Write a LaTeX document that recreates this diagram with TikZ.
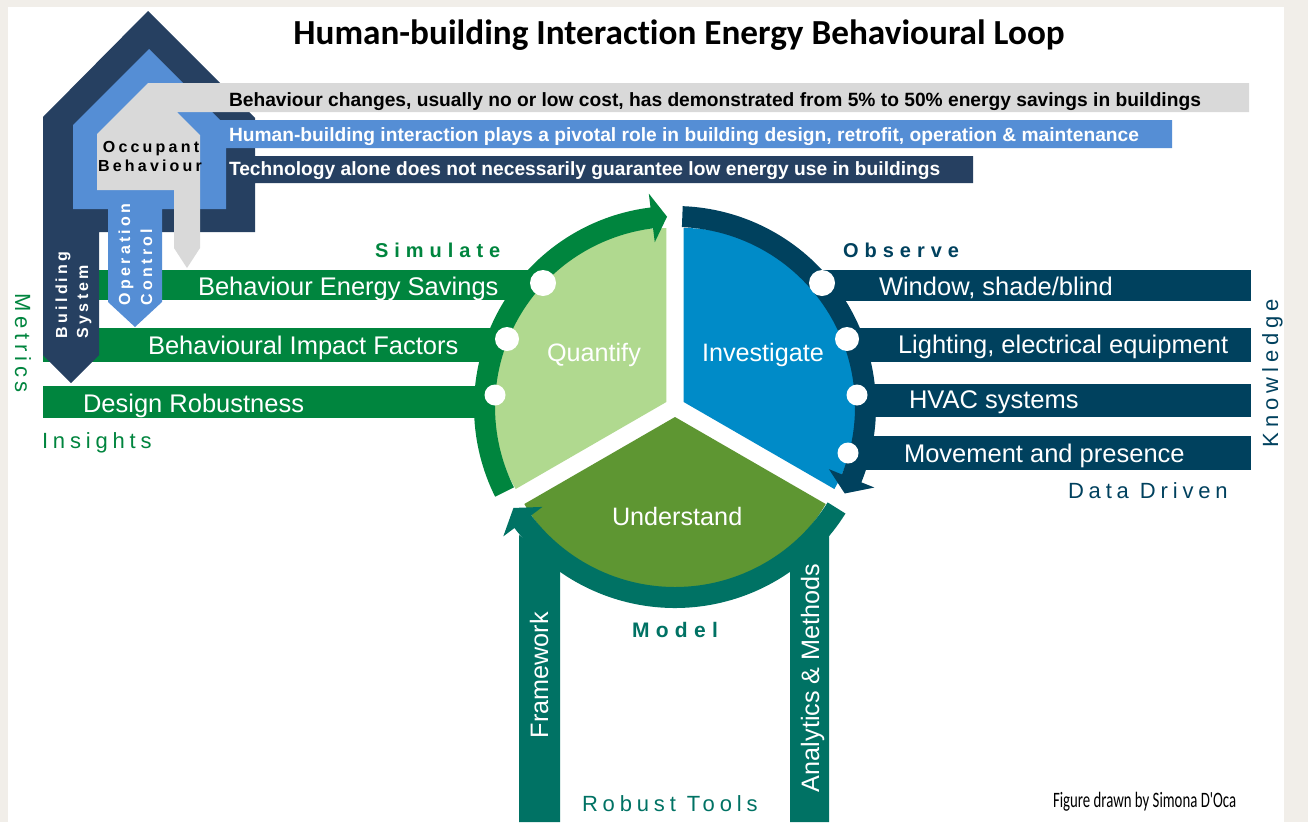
\documentclass[tikz,border=0pt]{standalone}
\usepackage{fontspec}
\setmainfont{Liberation Sans}
\newfontfamily\titlefont{Carlito}[Ligatures=NoCommon]
\newfontfamily\footfont{Carlito}
\newfontfamily\lsreg{Liberation Sans}[LetterSpace=22]
\newfontfamily\lsbold{Liberation Sans}[LetterSpace=30]
\newfontfamily\lssmall{Liberation Sans}[LetterSpace=20]
\newcommand\fsz[1]{\fontsize{#1}{#1}\selectfont}
\definecolor{bgc}{RGB}{241,238,233}
\definecolor{navyA}{RGB}{38,64,97}
\definecolor{lblue}{RGB}{85,142,213}
\definecolor{lgray}{RGB}{217,217,217}
\definecolor{grn}{RGB}{0,133,62}
\definecolor{lgrn}{RGB}{176,217,143}
\definecolor{invb}{RGB}{0,139,200}
\definecolor{dnavy}{RGB}{0,65,94}
\definecolor{olive}{RGB}{94,150,50}
\definecolor{teal}{RGB}{0,114,100}
\tikzset{
  barlbl/.style={anchor=base west, text=white, font=\fsz{25.5}},
  toplbl/.style={anchor=base west, font=\fsz{19.2}\bfseries},
  seclbl/.style={anchor=base west, text=white, font=\fsz{25.2}},
  spreg/.style={anchor=base west, font=\lsreg\fsz{22}},
  spbold/.style={anchor=base west, font=\lsbold\fsz{20}\bfseries},
  sphouse/.style={font=\lssmall\fsz{16}\bfseries},
  dot/.style={white}
}
\begin{document}
\begin{tikzpicture}[x=1pt,y=-1pt,every node/.style={inner sep=0pt,outer sep=0pt}]
\useasboundingbox (0,0) rectangle (1308,822);
\fill[bgc] (0,0) rectangle (1308,822);
\fill[white] (8,7) rectangle (1284,822);

\coordinate (O) at (675,407);
\coordinate (Q) at (666.34,402);
\coordinate (I) at (683.66,402);
\coordinate (U) at (675,417);

% left green bars
\fill[grn] (80,270) rectangle (565,300);
\fill[grn] (43,328) rectangle (565,362);
\fill[grn] (43,386) rectangle (565,418);
% right dark bars
\fill[dnavy] (770,270) rectangle (1251,301);
\fill[dnavy] (790,328) rectangle (1251,362);
\fill[dnavy] (800,384) rectangle (1251,417);
\fill[dnavy] (825,436) rectangle (1251,470);
% bottom teal bars
\fill[teal] (519,822) -- (519,535) -- (560,568) -- (560,822) -- cycle;
\fill[teal] (790,822) -- (790,568) -- (829,533) -- (829,822) -- cycle;

% sectors
\fill[lgrn] (Q) -- ([shift={(Q)}]-90:174) arc[start angle=-90,end angle=-210,radius=174] -- cycle;
\fill[invb] (I) -- ([shift={(I)}]-90:174) arc[start angle=-90,end angle=30,radius=174] -- cycle;
\fill[olive] (U) -- ([shift={(U)}]30:174) arc[start angle=30,end angle=150,radius=174] -- cycle;

% rings with arrowheads
\fill[grn] ([shift={(O)}]-206.5:180) arc[start angle=-206.5,end angle=-97,radius=180]
  -- ([shift={(O)}]-97:166) -- ([shift={(O)}]-92.4:190.5) -- ([shift={(O)}]-97:215)
  -- ([shift={(O)}]-97:201) arc[start angle=-97,end angle=-206.5,radius=201] -- cycle;
\fill[dnavy] ([shift={(O)}]-87.8:180) arc[start angle=-87.8,end angle=22,radius=180]
  -- ([shift={(O)}]22:166) -- ([shift={(O)}]27:190.5) -- ([shift={(O)}]22:215)
  -- ([shift={(O)}]22:201) arc[start angle=22,end angle=-87.8,radius=201] -- cycle;
\fill[teal] ([shift={(O)}]32:180) arc[start angle=32,end angle=143,radius=180]
  -- ([shift={(O)}]143:166) -- ([shift={(O)}]148:190.5) -- ([shift={(O)}]143:215)
  -- ([shift={(O)}]143:201) arc[start angle=143,end angle=32,radius=201] -- cycle;

% dots
\fill[dot] (543,283) circle[radius=13];
\fill[dot] (507,339) circle[radius=12];
\fill[dot] (495,395) circle[radius=10.5];
\fill[dot] (822,283) circle[radius=13];
\fill[dot] (847,339) circle[radius=12];
\fill[dot] (857,395) circle[radius=10.5];
\fill[dot] (848,453) circle[radius=10.5];

% house shapes
\fill[navyA] (43,355) -- (43,117) -- (148,11) -- (255,118) -- (255,156) -- (973,156)
  -- (973,183) -- (255,183) -- (255,232) -- (99,232) -- (99,355) -- (71,383) -- cycle;
\fill[lblue] (73,209) -- (73,125) -- (149,49) -- (220,120) -- (1172,120) -- (1172,148)
  -- (226,148) -- (226,209) -- (162,209) -- (162,302) -- (135,327) -- (108,302) -- (108,209) -- cycle;
\fill[lgray] (148,83) -- (1249,83) -- (1249,112) -- (177,112) -- (200,135) -- (200,248)
  -- (187,268) -- (174,248) -- (174,190) -- (97,190) -- (97,134) -- cycle;

% title
\node[anchor=base, font=\titlefont\fsz{35.2}\bfseries] (title) at (679,44) {Human-building Interaction Energy Behavioural Loop};

% top bar texts
\node[toplbl, text=black] (tb1) at (229,106) {Behaviour changes, usually no or low cost, has demonstrated from 5\% to 50\% energy savings in buildings};
\node[toplbl, text=white] (tb2) at (229,141) {Human-building interaction plays a pivotal role in building design, retrofit, operation \& maintenance};
\node[toplbl, text=white] (tb3) at (229,175) {Technology alone does not necessarily guarantee low energy use in buildings};

% house labels
\node[sphouse, anchor=base, text=black] (occ1) at (151,152) {Occupant};
\node[sphouse, anchor=base, text=black] (occ2) at (150,171) {Behaviour};
\node[sphouse, anchor=base west, rotate=90, text=white] (op1) at (130,305) {Operation};
\node[sphouse, anchor=base west, rotate=90, text=white] (op2) at (152,305) {Control};
\node[sphouse, anchor=base west, rotate=90, text=white] (bs1) at (67,338) {Building};
\node[sphouse, anchor=base west, rotate=90, text=white] (bs2) at (88,338) {System};

% bar labels
\node[barlbl] (lb1) at (198,295) {Behaviour Energy Savings};
\node[barlbl] (lb2) at (148,354) {Behavioural Impact Factors};
\node[barlbl] (lb3) at (83,412) {Design Robustness};
\node[barlbl] (rb1) at (879,295) {Window, shade/blind};
\node[barlbl] (rb2) at (898,353) {Lighting, electrical equipment};
\node[barlbl] (rb3) at (909,408) {HVAC systems};
\node[barlbl] (rb4) at (904,462) {Movement and presence};

% sector labels
\node[seclbl] (quant) at (547,361) {Quantify};
\node[seclbl] (invest) at (702,361) {Investigate};
\node[seclbl] (under) at (612,525) {Understand};
\node[seclbl, rotate=90] (frame) at (548,738) {Framework};
\node[seclbl, rotate=90] (anal) at (819,792) {Analytics \& Methods};

% spaced labels
\node[spbold, text=grn] (sim) at (375,257) {Simulate};
\node[spbold, text=dnavy] (obs) at (843,257) {Observe};
\node[spbold, text=teal, font=\lsbold\fsz{21}\bfseries] (model) at (632,637) {Model};
\node[spreg, text=teal] (robust) at (582,811) {Robust Tools};
\node[spreg, text=grn] (insights) at (42,448) {Insights};
\node[spreg, text=dnavy] (datadr) at (1068,498) {Data Driven};
\node[spreg, text=dnavy, rotate=90] (know) at (1278,447) {Knowledge};
\node[spreg, text=grn, rotate=-90] (metrics) at (15,293) {Metrics};

% credit
\node[anchor=base west, font=\footfont\fsz{22}] (credit) at (1053,807) {\scalebox{0.673}[1]{Figure drawn by Simona D'Oca}};
\end{tikzpicture}
\end{document}
